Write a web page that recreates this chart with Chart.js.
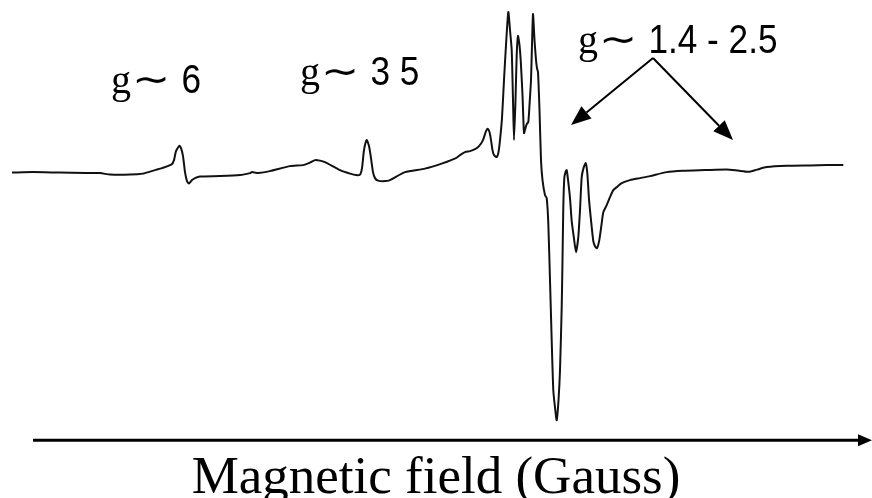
<!DOCTYPE html>
<html>
<head>
<meta charset="utf-8">
<script src="https://cdn.jsdelivr.net/npm/chart.js@4.4.0/dist/chart.umd.min.js"></script>
<style>
  html, body { margin: 0; padding: 0; background: #fff; }
  #wrap { width: 872px; height: 498px; }
</style>
</head>
<body>
<div id="wrap"><canvas id="epr"></canvas></div>
<script>
// field position (arbitrary units) and signal
const field = [12, 33, 60, 100, 110, 130, 143, 150, 155, 162, 171.7, 174, 176, 179.3, 181, 183, 185, 187, 189, 192, 195, 200,
  220, 240, 250, 252, 255, 258, 270, 290, 303, 310, 315, 320, 325, 340, 350, 356, 360, 362, 364, 366.7, 369, 371, 373, 375, 378,
  385, 390, 405, 425, 443, 456, 460, 465, 470, 475, 479, 483, 486, 487.7, 489.5, 491, 492.5, 494, 496.7, 498.5, 500, 502, 504,
  506, 508.3, 510, 511.7, 513, 514, 515.5, 516.7, 518, 519.5, 520.7, 522.5, 524, 525.5, 526.7, 528.3, 529.5, 531, 532, 533,
  534.5, 536, 537, 538, 539.5, 541, 542.5, 545, 546.7, 548.3, 550, 551.7, 553.3, 555, 556.7, 558.5, 560, 561.7, 562.5, 563.3,
  564.3, 565.5, 566.7, 568.3, 570, 571.7, 573.8, 576, 578.3, 580, 581.7, 583.5, 585.7, 587.3, 589, 591, 593.3, 595, 597, 599.3,
  601.7, 603.3, 606.7, 610, 613.3, 616.7, 621.7, 630, 640, 650, 666.7, 683, 705, 726.7, 738, 748.3, 757, 766.7, 786.7, 810,
  826.7, 843.3]
const signal = [-2.5, -2, -2.5, -3, -4.5, -4.5, -3.5, -1.5, 0, 2, 5.7, 10, 19, 24.3, 22, 14, -2, -11, -13.3, -10, -8, -6.5,
  -6, -5, -3, -2, -2.5, -3, -1, 4, 5, 7.5, 10, 9.5, 8, 0, -3.5, -5, -4.5, 2, 20, 30, 24, 12, -2, -8, -10.5,
  -11, -10, -2, 1.5, 7, 12, 15, 18, 19, 21, 24, 30, 39, 41.3, 38, 30, 20, 15, 13, 18, 30, 52, 90,
  125, 158, 140, 120, 70, 30, 70, 115, 134, 125, 110, 75, 37, 42, 46, 48, 65, 90, 125, 156,
  130, 110, 102, 98, 60, 10, -10, -25, -28, -53, -110, -170, -220, -237, -250, -230, -200, -137, -90, -37,
  -8, -2, 0, -12, -28, -51, -67, -82, -67, -40, -7, 2, 7, -3, -29, -50, -71, -76, -78, -70,
  -53, -42, -35, -27, -20, -17, -13, -10, -8, -6, -2, -0.7, 0, 0.7, -0.5, -1.7, 0.5, 3, 4.3, 4.7,
  5, 5]

// g-value labels over the peaks, anchored at field / signal
const labelText = ['6', '3 5', '1.4 - 2.5']
const labelField = [111, 300, 578]
const labelSignal = [77, 85, 117]

// pointer arrows from one apex to the g ~ 1.4 - 2.5 region
const arrowApex = [653, 112]
const arrowTipField = [571, 733]
const arrowTipSignal = [45, 30]

// field axis arrow
const axisStart = 33
const axisEnd = 872

const points = field.map((f, i) => ({ x: f, y: signal[i] }))

const annotations = {
  id: 'annotations',
  afterDraw(chart) {
    const ctx = chart.ctx
    const xs = chart.scales.x
    const ys = chart.scales.y
    ctx.save()
    ctx.fillStyle = '#000'
    ctx.strokeStyle = '#000'

    // axis
    const ay = ys.getPixelForValue(ys.min)
    const ax0 = xs.getPixelForValue(axisStart)
    const ax1 = xs.getPixelForValue(axisEnd)
    ctx.lineWidth = 3
    ctx.beginPath()
    ctx.moveTo(ax0, ay)
    ctx.lineTo(ax1 - 10, ay)
    ctx.stroke()
    ctx.beginPath()
    ctx.moveTo(ax1, ay)
    ctx.lineTo(ax1 - 14, ay - 6)
    ctx.lineTo(ax1 - 14, ay + 6)
    ctx.closePath()
    ctx.fill()

    // labels: serif g, tilde, condensed number
    ctx.textBaseline = 'alphabetic'
    labelText.forEach((txt, i) => {
      let x = xs.getPixelForValue(labelField[i])
      const y = ys.getPixelForValue(labelSignal[i])
      ctx.font = '40px "Liberation Serif"'
      ctx.fillText('g', x, y)
      x += ctx.measureText('g').width + 1
      ctx.font = '38px "Liberation Sans"'
      const tw = ctx.measureText('\u223C').width * 1.2
      ctx.save()
      ctx.translate(x, y - 1)
      ctx.scale(1.2, 1)
      ctx.fillText('\u223C', 0, 0)
      ctx.restore()
      x += tw + 11
      ctx.save()
      ctx.translate(x, y)
      ctx.scale(0.88, 1)
      ctx.font = '40px "Liberation Sans"'
      ctx.fillText(txt, 0, 0)
      ctx.restore()
    })

    // arrows
    const px = xs.getPixelForValue(arrowApex[0])
    const py = ys.getPixelForValue(arrowApex[1])
    ctx.lineWidth = 2
    arrowTipField.forEach((f, i) => {
      const tx = xs.getPixelForValue(f)
      const ty = ys.getPixelForValue(arrowTipSignal[i])
      const ang = Math.atan2(ty - py, tx - px)
      const len = 20
      const half = 8
      const bx = tx - len * Math.cos(ang)
      const by = ty - len * Math.sin(ang)
      ctx.beginPath()
      ctx.moveTo(px, py)
      ctx.lineTo(bx, by)
      ctx.stroke()
      ctx.beginPath()
      ctx.moveTo(tx, ty)
      ctx.lineTo(bx + half * Math.sin(ang), by - half * Math.cos(ang))
      ctx.lineTo(bx - half * Math.sin(ang), by + half * Math.cos(ang))
      ctx.closePath()
      ctx.fill()
    })
    ctx.restore()
  }
}

new Chart(document.getElementById('epr'), {
  type: 'line',
  data: {
    datasets: [{
      data: points,
      borderColor: '#111',
      borderWidth: 2,
      pointRadius: 0,
      tension: 0.2,
      fill: false
    }]
  },
  options: {
    responsive: true,
    maintainAspectRatio: false,
    animation: false,
    layout: { padding: 0 },
    plugins: { legend: { display: false }, tooltip: { enabled: false } },
    scales: {
      x: {
        type: 'linear',
        min: 0,
        max: 872,
        grid: { display: false },
        border: { display: false },
        ticks: { display: false },
        title: {
          display: true,
          text: 'Magnetic field (Gauss)',
          color: '#000',
          font: { family: '"Liberation Serif", "Times New Roman", serif', size: 53, lineHeight: 0.9 },
          padding: { top: 7, bottom: -5 }
        }
      },
      y: {
        display: false,
        min: -270,
        max: 170
      }
    }
  },
  plugins: [annotations]
})
</script>
</body>
</html>
